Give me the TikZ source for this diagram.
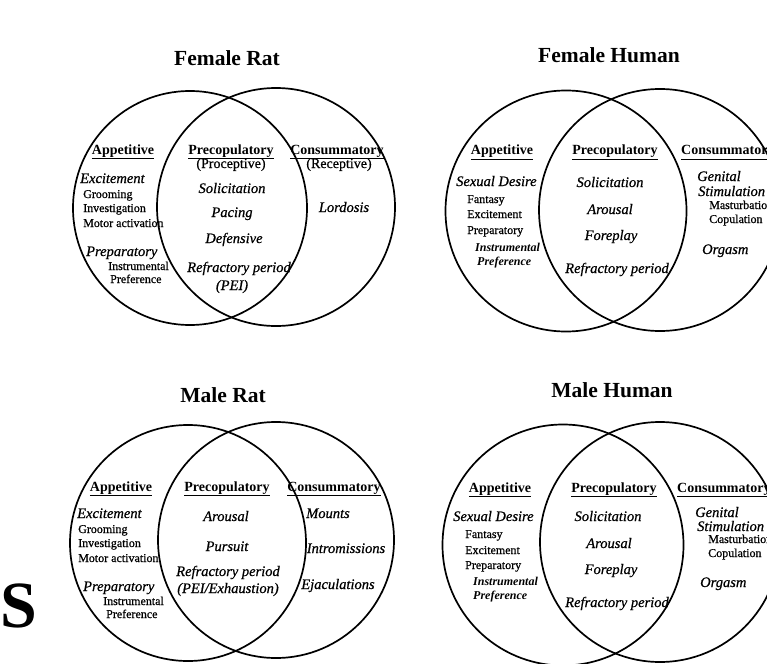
\documentclass[tikz,border=0pt]{standalone}
\usepackage{fontspec}
\setmainfont{Liberation Serif}
\newfontfamily\heavyserif[FakeBold=0.7]{Liberation Serif}
\newcommand\ulbox[1]{\leavevmode\vtop{\hbox{#1}\kern1.2pt\hrule height 0.9pt}}
\begin{document}
\begin{tikzpicture}[x=1pt,y=-1pt,
  ttl/.style={font=\fontsize{21.5}{24}\selectfont\bfseries, anchor=base, inner sep=0pt},
  hd/.style={font=\fontsize{14}{16}\selectfont\bfseries, anchor=base, inner sep=0pt},
  hdw/.style={hd, anchor=base west},
  it/.style={font=\heavyserif\fontsize{14.5}{16}\selectfont\itshape, anchor=base, inner sep=0pt},
  itw/.style={it, anchor=base west},
  rg/.style={font=\heavyserif\fontsize{14}{16}\selectfont, anchor=base, inner sep=0pt},
  sm/.style={font=\heavyserif\fontsize{12}{14}\selectfont, anchor=base west, inner sep=0pt},
  smbi/.style={font=\fontsize{12}{14}\selectfont\bfseries\itshape, anchor=base west, inner sep=0pt},
  circ/.style={draw, circle, line width=1.7pt, inner sep=0pt}]
\useasboundingbox (0,0) rectangle (767,663);
\clip (0,0) rectangle (767,663);
\fill[white] (0,0) rectangle (767,663);

% ---------------- Female Rat ----------------
\node[ttl] (frT) at (227,66) {Female Rat};
\node[circ, minimum size=234pt] (frL) at (190,208) {};
\node[circ, minimum size=238pt] (frR) at (276,207) {};
\node[hd] (frA) at (123,154) {\ulbox{Appetitive}};
\node[hd] (frP) at (231,154) {\ulbox{Precopulatory}};
\node[hd] (frC) at (337,154) {\ulbox{Consummatory}};
\node[rg] (frP2) at (231,168) {(Proceptive)};
\node[rg] (frC2) at (339,168) {(Receptive)};
\node[itw] (fr1) at (80,183) {Excitement};
\node[sm] (fr2) at (83,198) {Grooming};
\node[sm] (fr3) at (83,212) {Investigation};
\node[sm] (fr4) at (83,227) {Motor activation};
\node[itw] (fr5) at (86,256) {Preparatory};
\node[sm] (fr6) at (108,270) {Instrumental};
\node[sm] (fr7) at (110,283) {Preference};
\node[it] (fr8) at (232,193) {Solicitation};
\node[it] (fr9) at (232,217) {Pacing};
\node[it] (fr10) at (234,243) {Defensive};
\node[it] (fr11) at (239,272) {Refractory period};
\node[it] (fr12) at (232,290) {(PEI)};
\node[it] (fr13) at (344,212) {Lordosis};

% ---------------- Female Human ----------------
\node[ttl] (fhT) at (609,63) {Female Human};
\node[circ, minimum size=241pt] (fhL) at (566,211) {};
\node[circ, minimum size=242pt] (fhR) at (660,210) {};
\node[hd] (fhA) at (502,155) {\ulbox{Appetitive}};
\node[hd] (fhP) at (615,155) {\ulbox{Precopulatory}};
\node[hdw] (fhC) at (681,155) {\ulbox{Consummatory}};
\node[itw] (fh1) at (456,186) {Sexual Desire};
\node[sm] (fh2) at (467,203) {Fantasy};
\node[sm] (fh3) at (467,218) {Excitement};
\node[sm] (fh4) at (467,234) {Preparatory};
\node[smbi] (fh5) at (475,251) {Instrumental};
\node[smbi] (fh6) at (477,265) {Preference};
\node[it] (fh7) at (610,187) {Solicitation};
\node[it] (fh8) at (610,214) {Arousal};
\node[it] (fh9) at (611,240) {Foreplay};
\node[it] (fh10) at (617,273) {Refractory period};
\node[itw] (fh11) at (697,181) {Genital};
\node[itw] (fh12) at (698,196) {Stimulation};
\node[sm] (fh13) at (709,209) {Masturbation};
\node[sm] (fh14) at (709,223) {Copulation};
\node[itw] (fh15) at (702,254) {Orgasm};

% ---------------- Male Rat ----------------
\node[ttl] (mrT) at (223,402) {Male Rat};
\node[circ, minimum size=236pt] (mrL) at (188,543) {};
\node[circ, minimum size=236pt] (mrR) at (276,540) {};
\node[hd] (mrA) at (121,491) {\ulbox{Appetitive}};
\node[hd] (mrP) at (227,491) {\ulbox{Precopulatory}};
\node[hd] (mrC) at (334,491) {\ulbox{Consummatory}};
\node[itw] (mr1) at (77,518) {Excitement};
\node[sm] (mr2) at (78,533) {Grooming};
\node[sm] (mr3) at (78,547) {Investigation};
\node[sm] (mr4) at (78,562) {Motor activation};
\node[itw] (mr5) at (83,591) {Preparatory};
\node[sm] (mr6) at (103,605) {Instrumental};
\node[sm] (mr7) at (106,618) {Preference};
\node[it] (mr8) at (226,521) {Arousal};
\node[it] (mr9) at (227,551) {Pursuit};
\node[it] (mr10) at (228,576) {Refractory period};
\node[it] (mr11) at (228,593) {(PEI/Exhaustion)};
\node[it] (mr12) at (328,518) {Mounts};
\node[it] (mr13) at (346,553) {Intromissions};
\node[it] (mr14) at (338,589) {Ejaculations};

% ---------------- Male Human ----------------
\node[ttl] (mhT) at (612,397) {Male Human};
\node[circ, minimum size=241pt] (mhL) at (563,545) {};
\node[circ, minimum size=240pt] (mhR) at (660,542) {};
\node[hd] (mhA) at (500,492) {\ulbox{Appetitive}};
\node[hd] (mhP) at (614,492) {\ulbox{Precopulatory}};
\node[hdw] (mhC) at (677,492) {\ulbox{Consummatory}};
\node[itw] (mh1) at (453,521) {Sexual Desire};
\node[sm] (mh2) at (465,538) {Fantasy};
\node[sm] (mh3) at (465,554) {Excitement};
\node[sm] (mh4) at (465,569) {Preparatory};
\node[smbi] (mh5) at (473,585) {Instrumental};
\node[smbi] (mh6) at (473,599) {Preference};
\node[it] (mh7) at (608,521) {Solicitation};
\node[it] (mh8) at (609,548) {Arousal};
\node[it] (mh9) at (611,574) {Foreplay};
\node[it] (mh10) at (617,607) {Refractory period};
\node[itw] (mh11) at (695,517) {Genital};
\node[itw] (mh12) at (697,531) {Stimulation};
\node[sm] (mh13) at (708,543) {Masturbation};
\node[sm] (mh14) at (708,557) {Copulation};
\node[itw] (mh15) at (700,587) {Orgasm};

% ---------------- stray letter ----------------
\node[font=\fontsize{66}{70}\selectfont\bfseries, anchor=base, inner sep=0pt] (S) at (19,627) {S};
\end{tikzpicture}
\end{document}
